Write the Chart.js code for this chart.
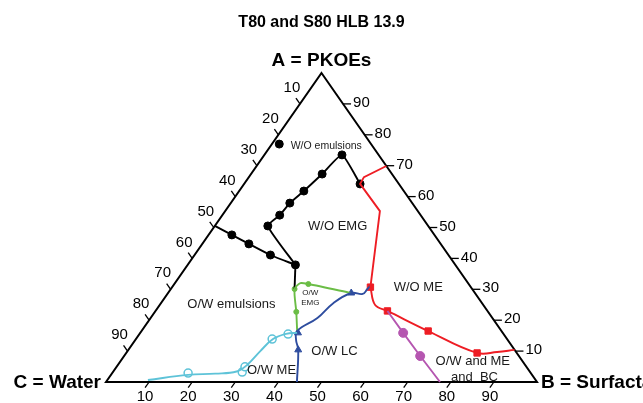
<!DOCTYPE html>
<html>
<head>
<meta charset="utf-8">
<script src="https://cdn.jsdelivr.net/npm/chart.js@4"></script>
<style>
  body { margin: 0; background: #fff; }
  #wrap { width: 643px; height: 403px; }
</style>
</head>
<body>
<div id="wrap"><canvas id="myChart" width="643" height="403"></canvas></div>
<script>
// compositions as [A = PKOEs, B = Surfactant, C = Water] in %
var tickValues = [10, 20, 30, 40, 50, 60, 70, 80, 90];

var blackSingle = [[77.0, 1.7, 21.3]];
var blackLeft = [[50.5, 0.0, 49.5], [47.6, 5.4, 47.0], [44.7, 10.8, 44.5], [41.1, 17.6, 41.3], [37.9, 25.0, 37.1]];
var blackLoop = [[37.9, 25.0, 37.1], [50.5, 12.3, 37.2], [54.0, 13.3, 32.7], [57.9, 13.7, 28.4], [61.8, 15.0, 23.2], [67.3, 16.5, 16.2], [73.5, 18.0, 8.5], [64.1, 26.9, 9.0]];
var blackTail = [[37.9, 25.0, 37.1], [30.1, 28.7, 41.2]];
var blackDots = [[47.6, 5.4, 47.0], [44.7, 10.8, 44.5], [41.1, 17.6, 41.3], [37.9, 25.0, 37.1], [50.5, 12.3, 37.2], [54.0, 13.3, 32.7], [57.9, 13.7, 28.4], [61.8, 15.0, 23.2], [67.3, 16.5, 16.2], [73.5, 18.0, 8.5], [64.1, 26.9, 9.0]];

var greenLine = [[16.5, 36.1, 47.4], [22.7, 32.8, 44.5], [30.1, 28.7, 41.2], [32.0, 29.1, 38.9], [31.7, 31.1, 37.2], [28.8, 42.5, 28.7]];
var greenDots = [[22.7, 32.8, 44.5], [30.1, 28.7, 41.2], [31.7, 31.1, 37.2]];

var blueLine = [[0, 44.3, 55.7], [10.4, 39.4, 50.2], [13.6, 37.3, 49.1], [16.5, 36.1, 47.4], [20.7, 38.7, 40.6], [25.6, 40.0, 34.4], [28.8, 42.5, 28.7], [28.5, 45.3, 26.2], [30.1, 45.6, 24.3], [31.1, 45.8, 23.1]];
var blueTriangles = [[10.4, 39.4, 50.2], [15.9, 36.6, 47.5], [28.8, 42.5, 28.7]];

var redUpper = [[69.9, 30.1, 0], [66.3, 26.7, 7.0], [64.1, 26.9, 9.0], [55.3, 35.9, 8.8], [30.7, 46.0, 23.3]];
var redLower = [[30.7, 46.0, 23.3], [24.9, 50.0, 25.1], [23.0, 53.8, 23.2], [16.5, 66.5, 17.0], [9.4, 81.4, 9.2], [9.7, 85.9, 4.4], [10.4, 89.6, 0]];
var redSquares = [[30.7, 46.0, 23.3], [23.0, 53.8, 23.2], [16.5, 66.5, 17.0], [9.4, 81.4, 9.2]];

var purpleLine = [[23.0, 53.8, 23.2], [15.9, 61.0, 23.1], [8.4, 68.7, 22.9], [0, 77.5, 22.5]];
var purpleDots = [[15.9, 61.0, 23.1], [8.4, 68.7, 22.9]];

var cyanLine = [[0.65, 9.4, 89.95], [2.3, 17.9, 79.8], [2.7, 24.0, 73.3], [3.4, 28.6, 68.0], [5.6, 30.0, 64.4], [10.0, 30.8, 59.2], [13.9, 31.8, 54.3], [15.6, 34.0, 50.4], [15.9, 36.4, 47.7]];
var cyanCircles = [[2.9, 17.6, 79.5], [3.2, 30.0, 66.8], [4.9, 29.8, 65.3], [13.9, 31.6, 54.5], [15.5, 34.5, 50.0]];

var regionNames = ['W/O emulsions', 'W/O EMG', 'O/W emulsions', 'O/W', 'EMG', 'W/O ME', 'O/W LC', 'O/W ME', 'O/W and ME', 'and  BC'];
var regionAt = [[76.4, 12.9], [50.5, 28.5], [25.2, 16.5], [28.8, 33.0], [25.6, 34.6], [30.7, 57.1], [10.0, 48.0], [3.6, 36.6], [6.8, 81.7], [1.6, 84.7]];
var regionSize = [10.5, 13, 13, 8, 8, 13, 13, 13, 13, 13];

// ternary -> chart coordinates (C at 0,0  B at 100,0  A at 50,100)
function tern(list) {
    return list.map(function(t) { return { x: t[1] + t[0] / 2, y: t[0] }; });
}

function lineSet(list, color, tension) {
    return { data: tern(list), showLine: true, borderColor: color, borderWidth: 1.9, pointRadius: 0, tension: tension, clip: false };
}
function markSet(list, style, radius, fill, stroke, bw) {
    return { data: tern(list), showLine: false, pointStyle: style, pointRadius: radius, pointBackgroundColor: fill, pointBorderColor: stroke, pointBorderWidth: bw, clip: false };
}

var red = '#ee1d24', blue = '#2e4d9f', green = '#6bbd46', cyan = '#5ec3d8', purple = '#b556b0';

var ternaryFrame = {
    id: 'ternaryFrame',
    beforeDatasetsDraw: function(chart) {
        var ctx = chart.ctx, xs = chart.scales.x, ys = chart.scales.y;
        function P(t) { return { x: xs.getPixelForValue(t[1] + t[0] / 2), y: ys.getPixelForValue(t[0]) }; }
        var A = P([100, 0, 0]), B = P([0, 100, 0]), C = P([0, 0, 100]);
        ctx.save();
        ctx.strokeStyle = '#000';
        ctx.lineWidth = 2;
        ctx.beginPath();
        ctx.moveTo(A.x, A.y); ctx.lineTo(B.x, B.y); ctx.lineTo(C.x, C.y); ctx.closePath();
        ctx.stroke();

        var dAC = { x: C.x - A.x, y: C.y - A.y }, nAC = Math.hypot(dAC.x, dAC.y);
        var dBA = { x: A.x - B.x, y: A.y - B.y }, nBA = Math.hypot(dBA.x, dBA.y);
        ctx.lineWidth = 1.3;
        ctx.fillStyle = '#000';
        ctx.font = '15px "Liberation Sans", Arial, sans-serif';
        ctx.textBaseline = 'middle';
        tickValues.forEach(function(v) {
            // right edge: A
            var p = P([v, 100 - v, 0]);
            ctx.beginPath(); ctx.moveTo(p.x, p.y); ctx.lineTo(p.x + 8, p.y); ctx.stroke();
            ctx.textAlign = 'left';
            ctx.fillText(String(v), p.x + 10, p.y - 1);
            // bottom edge: B
            p = P([0, v, 100 - v]);
            ctx.beginPath(); ctx.moveTo(p.x, p.y); ctx.lineTo(p.x + dAC.x / nAC * 7, p.y + dAC.y / nAC * 7); ctx.stroke();
            ctx.textAlign = 'center';
            ctx.fillText(String(v), p.x - 4, p.y + 15);
            // left edge: C
            p = P([100 - v, 0, v]);
            ctx.beginPath(); ctx.moveTo(p.x, p.y); ctx.lineTo(p.x + dBA.x / nBA * 7, p.y + dBA.y / nBA * 7); ctx.stroke();
            ctx.fillText(String(v), p.x - 8, p.y - 16);
        });
        ctx.restore();
    },
    afterDraw: function(chart) {
        var ctx = chart.ctx, xs = chart.scales.x, ys = chart.scales.y;
        function P(t) { return { x: xs.getPixelForValue(t[1] + t[0] / 2), y: ys.getPixelForValue(t[0]) }; }
        var A = P([100, 0, 0]), B = P([0, 100, 0]), C = P([0, 0, 100]);
        ctx.save();
        ctx.fillStyle = '#000';
        ctx.textBaseline = 'middle';
        ctx.font = 'bold 16px "Liberation Sans", Arial, sans-serif';
        ctx.textAlign = 'center';
        ctx.fillText('T80 and S80 HLB 13.9', A.x, 23);
        ctx.font = 'bold 19px "Liberation Sans", Arial, sans-serif';
        ctx.fillText('A = PKOEs', A.x, A.y - 12);
        ctx.textAlign = 'right';
        ctx.fillText('C = Water', C.x - 5, C.y + 1);
        ctx.textAlign = 'left';
        ctx.fillText('B = Surfactant', B.x + 4, B.y + 1);
        ctx.textAlign = 'center';
        regionNames.forEach(function(name, i) {
            var p = P([regionAt[i][0], regionAt[i][1], 100 - regionAt[i][0] - regionAt[i][1]]);
            ctx.font = regionSize[i] + 'px "Liberation Sans", Arial, sans-serif';
            ctx.fillStyle = '#1a1a1a';
            ctx.fillText(name, p.x, p.y);
        });
        ctx.restore();
    }
};

var ctx = document.getElementById('myChart').getContext('2d');
var myChart = new Chart(ctx, {
    type: 'scatter',
    data: {
        datasets: [
            lineSet(cyanLine, cyan, 0.4),
            lineSet(purpleLine, purple, 0),
            lineSet(redUpper, red, 0),
            lineSet(redLower, red, 0.4),
            lineSet(blueLine, blue, 0.4),
            lineSet(greenLine, green, 0.25),
            lineSet(blackLeft, '#000', 0.2),
            lineSet(blackLoop, '#000', 0.15),
            lineSet(blackTail, '#000', 0),
            markSet(cyanCircles, 'circle', 4, '#fff', cyan, 1.5),
            markSet(purpleDots, 'circle', 4.5, purple, purple, 1),
            markSet(redSquares, 'rect', 4.5, red, red, 1),
            markSet(greenDots, 'circle', 2.5, green, green, 1),
            markSet(blueTriangles, 'triangle', 4, blue, blue, 1),
            markSet(blackDots, 'circle', 4, '#000', '#000', 1),
            markSet(blackSingle, 'circle', 4, '#000', '#000', 1)
        ]
    },
    options: {
        responsive: false,
        animation: false,
        layout: { padding: { left: 106, right: 106, top: 73, bottom: 21 } },
        plugins: { legend: { display: false }, tooltip: { enabled: false } },
        scales: {
            x: { type: 'linear', min: 0, max: 100, display: false },
            y: { type: 'linear', min: 0, max: 100, display: false }
        }
    },
    plugins: [ternaryFrame]
});
</script>
</body>
</html>
